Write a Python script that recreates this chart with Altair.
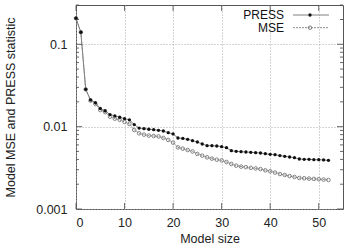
import altair as alt
import pandas as pd

model_size = list(range(53))
press = [0.207, 0.140, 0.0284, 0.0211, 0.0195, 0.0166, 0.0156, 0.0140, 0.0135, 0.0130,
         0.0125, 0.0121, 0.0106, 0.0096, 0.00946, 0.00929, 0.0092, 0.00902, 0.00885, 0.00845,
         0.00815, 0.00728, 0.0072, 0.00702, 0.00676, 0.00651, 0.00616, 0.00588, 0.00588, 0.00582,
         0.00571, 0.00555, 0.00511, 0.00501, 0.00497, 0.00492, 0.00488, 0.00483, 0.00479, 0.0047,
         0.00461, 0.00457, 0.00445, 0.00436, 0.00428, 0.0042, 0.00405, 0.00401, 0.00401, 0.00397,
         0.00397, 0.00394, 0.0039]
mse = [0.207, 0.140, 0.0284, 0.0207, 0.0188, 0.0159, 0.0150, 0.0132, 0.0125, 0.0121,
       0.0114, 0.0108, 0.0091, 0.0083, 0.0080, 0.0078, 0.0077, 0.0076, 0.0073, 0.0069,
       0.0064, 0.0056, 0.0054, 0.0052, 0.0050, 0.00466, 0.00445, 0.00424, 0.00409, 0.00397,
       0.0039, 0.00372, 0.00352, 0.00336, 0.00327, 0.00322, 0.00316, 0.00311, 0.00305, 0.00295,
       0.00287, 0.00277, 0.00266, 0.00259, 0.00251, 0.00245, 0.00238, 0.00236, 0.00234, 0.00232,
       0.0023, 0.00228, 0.00225]
series_names = ["PRESS", "MSE"]
x_ticks = [0, 10, 20, 30, 40, 50]
y_major = [0.001, 0.01, 0.1]
y_minor = [0.002, 0.003, 0.004, 0.005, 0.006, 0.007, 0.008, 0.009,
           0.02, 0.03, 0.04, 0.05, 0.06, 0.07, 0.08, 0.09, 0.2, 0.3]

FONT = "Liberation Sans"
FS = 12.5

df = pd.DataFrame({"size": model_size, "PRESS": press, "MSE": mse})
xs = alt.Scale(domain=[0, 55], nice=False, zero=False)
ys = alt.Scale(type="log", domain=[0.001, 0.3], nice=False)

ax_x = alt.Axis(values=x_ticks, grid=True, gridDash=[1, 2], gridColor="#aaaaaa",
                ticks=False, domain=False, labelFont=FONT, labelFontSize=FS,
                labelColor="#222", labelPadding=7, title="Model size",
                titleFont=FONT, titleFontSize=FS, titleFontWeight="normal",
                titleColor="#222", titlePadding=4)
ax_y = alt.Axis(values=y_major, grid=True, gridDash=[1, 2], gridColor="#aaaaaa",
                ticks=False, domain=False, labelFont=FONT, labelFontSize=FS,
                labelColor="#222", labelPadding=9, format="~g",
                title="Model MSE and PRESS statistic", titleFont=FONT,
                titleFontSize=FS, titleFontWeight="normal", titleColor="#222",
                titlePadding=18)

base = alt.Chart(df)


def X(f):
    return alt.X(f, scale=xs, axis=ax_x)


def Y(f):
    return alt.Y(f, scale=ys, axis=ax_y)


press_line = base.mark_line(color="#808080", strokeWidth=1).encode(x=X("size:Q"), y=Y("PRESS:Q"))
mse_line = base.mark_line(color="#808080", strokeWidth=0.9, strokeDash=[2, 1]).encode(
    x=X("size:Q"), y=Y("MSE:Q"))
mse_pts = base.mark_point(shape="circle", size=13, filled=False, color="#777777",
                          strokeWidth=0.9, opacity=1).encode(x=X("size:Q"), y=Y("MSE:Q"))
press_pts = base.mark_point(shape="circle", size=11, filled=True, color="#111111",
                            opacity=1).encode(x=X("size:Q"), y=Y("PRESS:Q"))

# inward ticks (gnuplot style)
ymaj = alt.Chart(pd.DataFrame({"v": y_major}))
ymin = alt.Chart(pd.DataFrame({"v": y_minor}))
xtk = alt.Chart(pd.DataFrame({"v": x_ticks}))
tc = "#444444"
ticks = [
    ymaj.mark_rule(color=tc, strokeWidth=0.8).encode(y=Y("v:Q"), x=alt.value(0), x2=alt.value(6)),
    ymaj.mark_rule(color=tc, strokeWidth=0.8).encode(y=Y("v:Q"), x=alt.value(267), x2=alt.value(261)),
    ymin.mark_rule(color=tc, strokeWidth=0.8).encode(y=Y("v:Q"), x=alt.value(0), x2=alt.value(3)),
    ymin.mark_rule(color=tc, strokeWidth=0.8).encode(y=Y("v:Q"), x=alt.value(267), x2=alt.value(264)),
    xtk.mark_rule(color=tc, strokeWidth=0.8).encode(x=X("v:Q"), y=alt.value(204), y2=alt.value(198)),
    xtk.mark_rule(color=tc, strokeWidth=0.8).encode(x=X("v:Q"), y=alt.value(0), y2=alt.value(6)),
]

# legend
LFS = 12
leg = alt.Chart(pd.DataFrame({"a": [0]}))
legend = [
    leg.mark_text(align="right", baseline="middle", font=FONT, fontSize=LFS, color="#111").encode(
        x=alt.value(208), y=alt.value(9.5), text=alt.value(series_names[0])),
    leg.mark_text(align="right", baseline="middle", font=FONT, fontSize=LFS, color="#111").encode(
        x=alt.value(208), y=alt.value(23), text=alt.value(series_names[1])),
    leg.mark_rule(color="#808080", strokeWidth=1).encode(
        x=alt.value(217), x2=alt.value(253), y=alt.value(10)),
    leg.mark_rule(color="#808080", strokeWidth=0.9, strokeDash=[2, 1]).encode(
        x=alt.value(217), x2=alt.value(253), y=alt.value(22.7)),
    leg.mark_point(shape="circle", size=11, filled=True, color="#111111", opacity=1).encode(
        x=alt.value(234), y=alt.value(10)),
    leg.mark_point(shape="circle", size=13, filled=False, color="#777777", strokeWidth=0.9,
                   opacity=1).encode(x=alt.value(234), y=alt.value(22.7)),
]

chart = alt.layer(press_line, mse_line, mse_pts, press_pts, *ticks, *legend).properties(
    width=267, height=204,
    autosize=alt.AutoSizeParams(type="none"),
    padding={"left": 76, "top": 5, "right": 9, "bottom": 39},
    background="white",
).configure_view(stroke="#555555", strokeWidth=1)

chart.save("out.html", embed_options={"renderer": "svg", "actions": False})
